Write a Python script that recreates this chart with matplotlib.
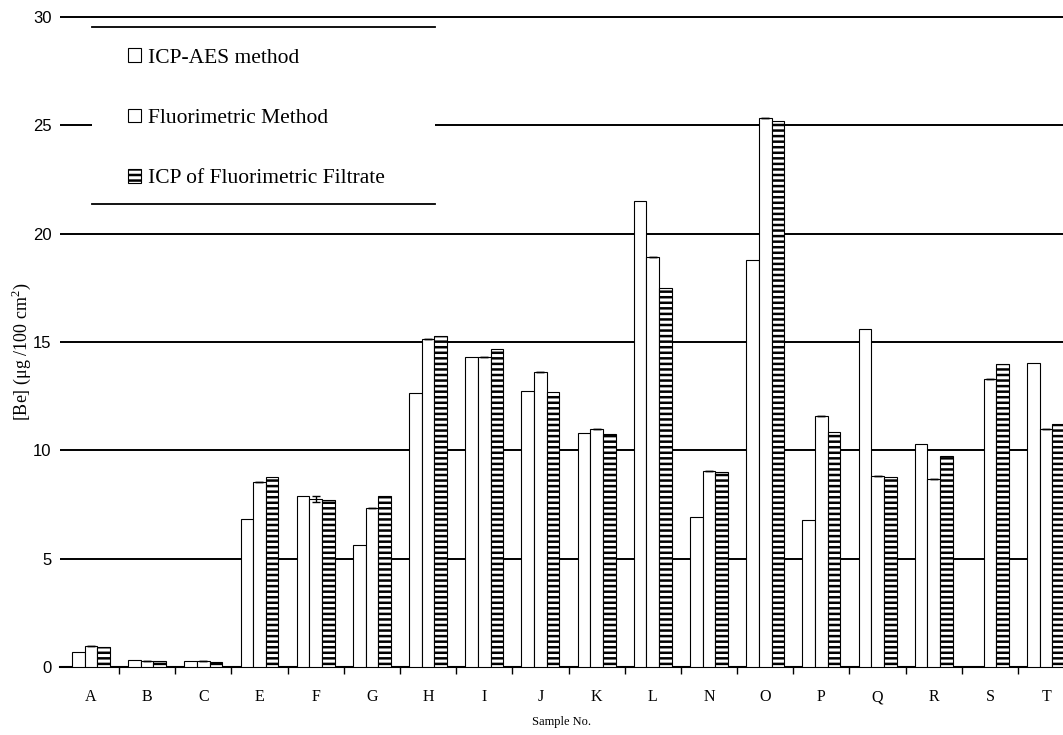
"""
Beryllium results per sample: ICP-AES, fluorimetric and ICP of filtrate.
"""

import numpy as np
import matplotlib
matplotlib.use("Agg")
import matplotlib.pyplot as plt
from matplotlib import font_manager
from matplotlib.patches import Patch, Rectangle

# Data
samples = ['A', 'B', 'C', 'E', 'F', 'G', 'H', 'I', 'J',
           'K', 'L', 'N', 'O', 'P', 'Q', 'R', 'S', 'T']
icp_aes = [0.71, 0.32, 0.28, 6.82, 7.90, 5.63, 12.64, 14.30, 12.74,
           10.81, 21.50, 6.94, 18.78, 6.78, 15.58, 10.29, 0.0, 14.03]
fluorimetric = [0.98, 0.26, 0.30, 8.54, 7.75, 7.33, 15.12, 14.30, 13.63,
                10.98, 18.93, 9.04, 25.35, 11.60, 8.81, 8.66, 13.28, 10.98]
icp_filtrate = [0.94, 0.26, 0.25, 8.77, 7.70, 7.90, 15.29, 14.67, 12.69,
                10.75, 17.50, 9.00, 25.20, 10.83, 8.75, 9.74, 14.00, 11.20]
fluor_err = [0, 0, 0, 0, 0.15, 0, 0, 0, 0, 0, 0, 0, 0, 0, 0, 0, 0, 0]
y_ticks = [0, 5, 10, 15, 20, 25, 30]

plt.rcParams['hatch.linewidth'] = 1.8
plt.rcParams['mathtext.fontset'] = 'custom'
plt.rcParams['mathtext.rm'] = 'Liberation Serif'
serif = 'Liberation Serif'

# narrow sans for the y numbers if it is there
installed = {f.name for f in font_manager.fontManager.ttflist}
num_font = 'Liberation Sans Narrow' if 'Liberation Sans Narrow' in installed else 'Liberation Sans'

fig = plt.figure(figsize=(10.63, 7.35), dpi=100)
ax = fig.add_axes([60 / 1063, 1 - 667 / 735, 1 - 60 / 1063, (667 - 10.5) / 735])

x = np.arange(len(samples))
w = 0.225

ax.bar(x - w, icp_aes, w, color='white', edgecolor='black', linewidth=0.8, zorder=3)
ax.bar(x, fluorimetric, w, color='white', edgecolor='black', linewidth=0.8, zorder=3,
       yerr=fluor_err, error_kw=dict(ecolor='black', capsize=3, elinewidth=1))
ax.bar(x + w, icp_filtrate, w, color='white', edgecolor='black', linewidth=0.8,
       hatch='---', zorder=3)

# Axes styling
ax.set_xlim(-0.55, 17.3)
ax.set_ylim(0, 30.3)
ax.set_yticks(y_ticks)
ax.set_yticklabels([str(t) for t in y_ticks], family=num_font, fontsize=12)
ax.tick_params(axis='y', length=0, pad=6)
ax.set_xticks(x)
ax.set_xticklabels(samples, family=serif, fontsize=11.5)
ax.set_xticks(x[:-1] + 0.5, minor=True)
ax.tick_params(axis='x', which='major', length=0, pad=16)
ax.tick_params(axis='x', which='minor', length=5, width=1, direction='out')

for side in ['top', 'right', 'left']:
    ax.spines[side].set_visible(False)
ax.spines['bottom'].set_linewidth(1.5)

ax.set_axisbelow(True)
ax.yaxis.grid(True, color='black', linewidth=1.4)

ax.set_xlabel('Sample No.', family=serif, fontsize=9, labelpad=8)
ax.set_ylabel('[Be] (μg /100 cm$^2$)', family=serif, fontsize=13)
ax.yaxis.set_label_coords(-0.027, 0.48)

# Legend box: white panel with rules above and below
ax.add_patch(Rectangle((0.032, 0.705), 0.342, 0.270, transform=ax.transAxes,
                       facecolor='white', edgecolor='none', zorder=4))
for yy in (0.975, 0.705):
    ax.plot([0.032, 0.374], [yy, yy], transform=ax.transAxes, color='black',
            linewidth=1.3, zorder=5, clip_on=False)

handles = [
    Patch(facecolor='white', edgecolor='black', linewidth=0.8, label='ICP-AES method'),
    Patch(facecolor='white', edgecolor='black', linewidth=0.8, label='Fluorimetric Method'),
    Patch(facecolor='white', edgecolor='black', linewidth=0.8, hatch='---',
          label='ICP of Fluorimetric Filtrate'),
]
leg = ax.legend(handles=handles, loc='upper left', bbox_to_anchor=(0.057, 0.959),
                frameon=False, borderpad=0, labelspacing=1.9, handlelength=0.6,
                handleheight=0.6, handletextpad=0.35,
                prop={'family': serif, 'size': 15.5})
leg.set_zorder(6)

fig.savefig('out.png', dpi=100)
